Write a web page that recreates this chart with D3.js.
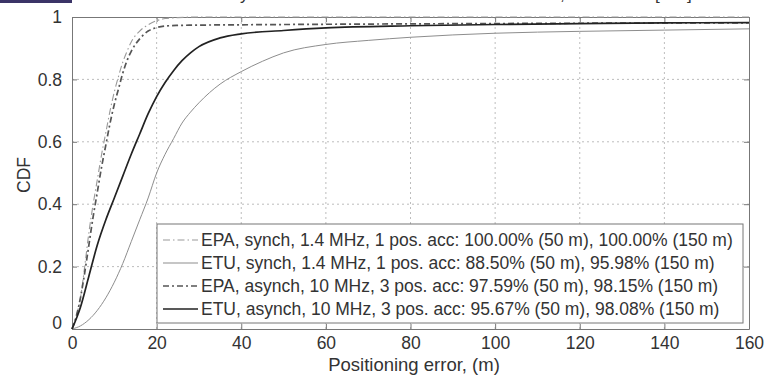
<!DOCTYPE html>
<html>
<head>
<meta charset="utf-8">
<script src="https://cdn.jsdelivr.net/npm/d3@7"></script>
<style>
  html, body { margin: 0; padding: 0; background: #fff; }
  svg { display: block; font-family: "Liberation Sans", Arial, Helvetica, sans-serif; }
</style>
</head>
<body>
<svg id="chart" width="776" height="378"></svg>
<script>
// ---------- data ----------
const xTicks = [0, 20, 40, 60, 80, 100, 120, 140, 160];
const yTicks = [0, 0.2, 0.4, 0.6, 0.8, 1];
const yTickLabels = ["0", "0.2", "0.4", "0.6", "0.8", "1"];

const epaSynchX = [0,1,2,3,4,5,6,7,8,9,10,11,12,13,14,16,18,20,22,25,30,40,160];
const epaSynchY = [0,0.04,0.1,0.2,0.31,0.4,0.48,0.56,0.63,0.7,0.76,0.81,0.855,0.89,0.92,0.955,0.975,0.988,0.995,0.998,1,1,1];

const etuSynchX = [0,2,4,6,8,10,12,14,16,18,20,22,24,26,28,30,35,40,45,50,60,70,80,100,120,140,160];
const etuSynchY = [0,0.01,0.03,0.06,0.1,0.15,0.21,0.28,0.35,0.42,0.5,0.56,0.61,0.66,0.695,0.725,0.785,0.825,0.858,0.885,0.912,0.925,0.935,0.948,0.954,0.958,0.962];

const epaAsynchX = [0,1,2,3,4,5,6,7,8,9,10,11,12,13,14,16,18,20,22,25,30,40,50,80,120,160];
const epaAsynchY = [0,0.04,0.1,0.18,0.27,0.36,0.44,0.52,0.59,0.66,0.72,0.77,0.82,0.86,0.89,0.93,0.955,0.966,0.971,0.973,0.974,0.975,0.9759,0.978,0.98,0.9815];

const etuAsynchX = [0,2,4,6,8,10,12,14,16,18,20,22,24,26,28,30,35,40,50,60,80,100,120,140,160];
const etuAsynchY = [0,0.07,0.17,0.27,0.35,0.42,0.49,0.56,0.625,0.69,0.745,0.79,0.828,0.86,0.885,0.905,0.933,0.946,0.9567,0.965,0.972,0.976,0.979,0.981,0.982];

const legendLabels = [
  "EPA, synch, 1.4 MHz, 1 pos. acc: 100.00% (50 m), 100.00% (150 m)",
  "ETU, synch, 1.4 MHz, 1 pos. acc: 88.50% (50 m), 95.98% (150 m)",
  "EPA, asynch, 10 MHz, 3 pos. acc: 97.59% (50 m), 98.15% (150 m)",
  "ETU, asynch, 10 MHz, 3 pos. acc: 95.67% (50 m), 98.08% (150 m)"
];

// ---------- layout ----------
const svg = d3.select("#chart");
const pLeft = 72, pRight = 749, pTop = 17, pBottom = 329;
const x = d3.scaleLinear().domain([0, 160]).range([pLeft, pRight]);
const y = d3.scaleLinear().domain([0, 1]).range([pBottom, pTop]);

const txt = "#333";

// caption fragment at top (clipped in the reference as well)
svg.append("rect").attr("x", 0).attr("y", 0).attr("width", 72).attr("height", 3).attr("fill", "#3b3467");
[["y", 240], [",", 560], ["[", 655], ["]", 687]].forEach(([t, px]) => {
  svg.append("text").attr("x", px).attr("y", 0).attr("font-size", 17).attr("fill", txt).text(t);
});

// grid
const grid = svg.append("g").attr("stroke", "#b5b5b5").attr("stroke-width", 0.9).attr("stroke-dasharray", "2,3");
xTicks.slice(1, -1).forEach(v => grid.append("line").attr("x1", x(v)).attr("x2", x(v)).attr("y1", pTop).attr("y2", pBottom));
yTicks.slice(1, -1).forEach(v => grid.append("line").attr("y1", y(v)).attr("y2", y(v)).attr("x1", pLeft).attr("x2", pRight));

// axes (inward ticks)
const axB = svg.append("g").attr("transform", `translate(0,${pBottom})`)
  .call(d3.axisBottom(x).tickValues(xTicks).tickSizeInner(-5).tickSizeOuter(0).tickPadding(8));
const axT = svg.append("g").attr("transform", `translate(0,${pTop})`)
  .call(d3.axisTop(x).tickValues(xTicks).tickSizeInner(-5).tickSizeOuter(0).tickFormat(""));
const axL = svg.append("g").attr("transform", `translate(${pLeft},0)`)
  .call(d3.axisLeft(y).tickValues(yTicks).tickSizeInner(-5).tickSizeOuter(0).tickPadding(10)
    .tickFormat((d, i) => yTickLabels[i]));
const axR = svg.append("g").attr("transform", `translate(${pRight},0)`)
  .call(d3.axisRight(y).tickValues(yTicks).tickSizeInner(-5).tickSizeOuter(0).tickFormat(""));
[axB, axT, axL, axR].forEach(a => {
  a.select(".domain").attr("stroke", "#777");
  a.selectAll(".tick line").attr("stroke", "#777");
  a.selectAll("text").attr("fill", txt).attr("font-size", 17.5).attr("font-family", "Liberation Sans, Arial, sans-serif");
});
axL.selectAll(".tick text").attr("dy", "0.32em");
axL.selectAll(".tick").filter(d => d === 0).select("text").attr("dy", "-0.05em");

// axis titles
svg.append("text").attr("x", 414).attr("y", 371).attr("text-anchor", "middle")
  .attr("font-size", 18.5).attr("fill", txt).text("Positioning error, (m)");
svg.append("text").attr("transform", "translate(30,175) rotate(-90)").attr("text-anchor", "middle")
  .attr("font-size", 17.5).attr("fill", txt).text("CDF");

// series
const styles = [
  { xs: epaSynchX, ys: epaSynchY, color: "#9a9a9a", w: 1.1, dash: "7,3,1.5,3" },
  { xs: etuSynchX, ys: etuSynchY, color: "#8d8d8d", w: 1.0, dash: null },
  { xs: epaAsynchX, ys: epaAsynchY, color: "#555", w: 1.7, dash: "6,3,2,3" },
  { xs: etuAsynchX, ys: etuAsynchY, color: "#222", w: 1.7, dash: null }
];
const line = d3.line().x(d => x(d[0])).y(d => y(d[1])).curve(d3.curveMonotoneX);
styles.forEach(s => {
  const pts = s.xs.map((v, i) => [v, s.ys[i]]);
  svg.append("path").datum(pts).attr("d", line).attr("fill", "none")
    .attr("stroke", s.color).attr("stroke-width", s.w)
    .attr("stroke-dasharray", s.dash);
});

// legend
const lg = svg.append("g");
lg.append("rect").attr("x", 157).attr("y", 224).attr("width", 743 - 157).attr("height", 323 - 224)
  .attr("fill", "#fff").attr("stroke", "#777").attr("stroke-width", 1);
const rowY = [240, 263, 286, 309];
legendLabels.forEach((t, i) => {
  const s = styles[i];
  lg.append("line").attr("x1", 163).attr("x2", 198).attr("y1", rowY[i]).attr("y2", rowY[i])
    .attr("stroke", s.color).attr("stroke-width", s.w).attr("stroke-dasharray", s.dash);
  lg.append("text").attr("x", 201).attr("y", rowY[i] + 6).attr("font-size", 17.5).attr("fill", txt).text(t);
});
</script>
</body>
</html>
